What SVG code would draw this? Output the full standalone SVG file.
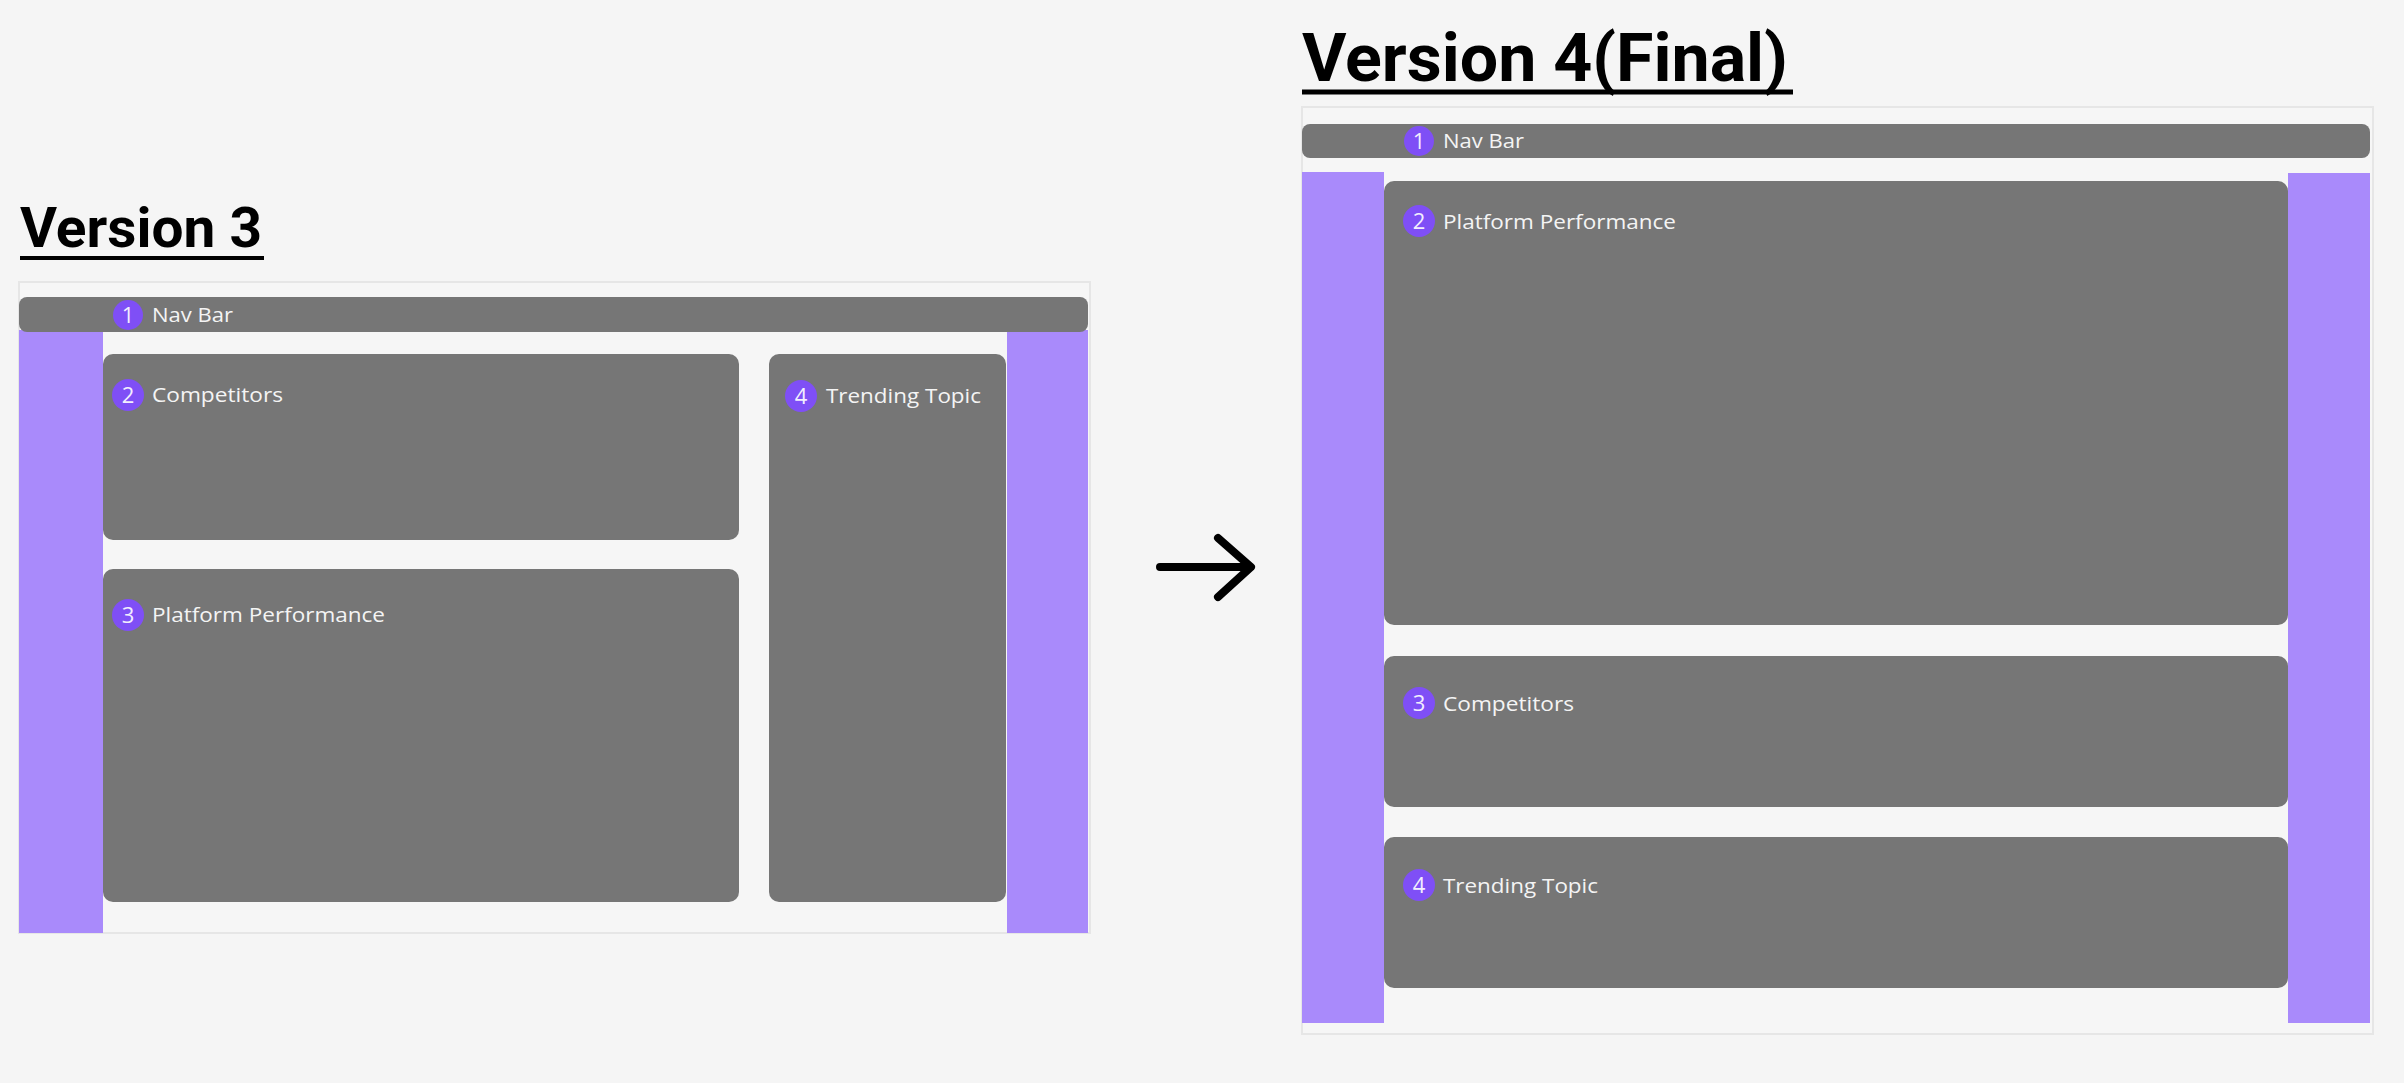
<svg xmlns="http://www.w3.org/2000/svg" width="2404" height="1083" viewBox="0 0 2404 1083">
  <style>
    .bg { fill: #f5f5f5; }
    .frame { fill: #f6f6f6; stroke: #e6e6e6; stroke-width: 2; }
    .bar { fill: #767676; }
    .side { fill: #a98afb; }
    .box { fill: #767676; }
    .badge { fill: #7f4ff6; }
    .num { font-family: "Open Sans", "Liberation Sans", sans-serif; font-size: 22px; fill: #f2eefe; text-anchor: middle; }
    .lbl { font-family: "Open Sans", "Liberation Sans", sans-serif; font-size: 20px; font-weight: 500; fill: #f4f4f4; }
    .title { font-family: Roboto, "Liberation Sans", sans-serif; font-weight: 700; fill: #000; }
    .uline { stroke: #000; }
    .arrow { fill: none; stroke: #000; stroke-width: 8; stroke-linecap: round; stroke-linejoin: round; }
  </style>
  <rect class="bg" x="0" y="0" width="2404" height="1083"/>

  <!-- Version 3 -->
  <g id="v3-title">
    <text class="title" x="20" y="247" font-size="55" textLength="242" lengthAdjust="spacingAndGlyphs">Version 3</text>
    <line class="uline" x1="20" y1="258" x2="264" y2="258" stroke-width="4"/>
  </g>
  <g id="v3-frame">
    <rect class="frame" x="19" y="282" width="1071" height="651"/>
  </g>
  <g id="v3-left-sidebar"><rect class="side" x="19" y="330" width="84" height="603"/></g>
  <g id="v3-right-sidebar"><rect class="side" x="1007" y="330" width="81" height="603"/></g>
  <g id="v3-navbar">
    <rect class="bar" x="19" y="297" width="1069" height="35" rx="8"/>
    <circle class="badge" cx="128" cy="315" r="15"/>
    <text class="num" x="128" y="323">1</text>
    <text class="lbl" x="152" y="322" textLength="81" lengthAdjust="spacingAndGlyphs">Nav Bar</text>
  </g>
  <g id="v3-competitors">
    <rect class="box" x="103" y="354" width="636" height="186" rx="10"/>
    <circle class="badge" cx="128" cy="395" r="16"/>
    <text class="num" x="128" y="403">2</text>
    <text class="lbl" x="152" y="402" textLength="131" lengthAdjust="spacingAndGlyphs">Competitors</text>
  </g>
  <g id="v3-platform">
    <rect class="box" x="103" y="569" width="636" height="333" rx="10"/>
    <circle class="badge" cx="128" cy="615" r="16"/>
    <text class="num" x="128" y="623">3</text>
    <text class="lbl" x="152" y="622" textLength="233" lengthAdjust="spacingAndGlyphs">Platform Performance</text>
  </g>
  <g id="v3-trending">
    <rect class="box" x="769" y="354" width="237" height="548" rx="10"/>
    <circle class="badge" cx="801" cy="396" r="16"/>
    <text class="num" x="801" y="404">4</text>
    <text class="lbl" x="826" y="403" textLength="155" lengthAdjust="spacingAndGlyphs">Trending Topic</text>
  </g>

  <!-- Version 4 -->
  <g id="v4-title">
    <text class="title" x="1302" y="81" font-size="67" textLength="486" lengthAdjust="spacingAndGlyphs">Version 4(Final)</text>
    <line class="uline" x1="1302" y1="92" x2="1793" y2="92" stroke-width="5"/>
  </g>
  <g id="v4-frame">
    <rect class="frame" x="1302" y="107" width="1071" height="927"/>
  </g>
  <g id="v4-left-sidebar"><rect class="side" x="1302" y="172" width="82" height="851"/></g>
  <g id="v4-right-sidebar"><rect class="side" x="2288" y="173" width="82" height="850"/></g>
  <g id="v4-navbar">
    <rect class="bar" x="1302" y="124" width="1068" height="34" rx="8"/>
    <circle class="badge" cx="1419" cy="141" r="15"/>
    <text class="num" x="1419" y="149">1</text>
    <text class="lbl" x="1443" y="148" textLength="81" lengthAdjust="spacingAndGlyphs">Nav Bar</text>
  </g>
  <g id="v4-platform">
    <rect class="box" x="1384" y="181" width="904" height="444" rx="10"/>
    <circle class="badge" cx="1419" cy="221" r="16"/>
    <text class="num" x="1419" y="229">2</text>
    <text class="lbl" x="1443" y="229" textLength="233" lengthAdjust="spacingAndGlyphs">Platform Performance</text>
  </g>
  <g id="v4-competitors">
    <rect class="box" x="1384" y="656" width="904" height="151" rx="10"/>
    <circle class="badge" cx="1419" cy="703" r="16"/>
    <text class="num" x="1419" y="711">3</text>
    <text class="lbl" x="1443" y="711" textLength="131" lengthAdjust="spacingAndGlyphs">Competitors</text>
  </g>
  <g id="v4-trending">
    <rect class="box" x="1384" y="837" width="904" height="151" rx="10"/>
    <circle class="badge" cx="1419" cy="885" r="16"/>
    <text class="num" x="1419" y="893">4</text>
    <text class="lbl" x="1443" y="893" textLength="155" lengthAdjust="spacingAndGlyphs">Trending Topic</text>
  </g>

  <g id="connectors">
    <path class="arrow" d="M1160 567 H1250 M1218 538 L1251 567 L1218 597"/>
  </g>
</svg>
